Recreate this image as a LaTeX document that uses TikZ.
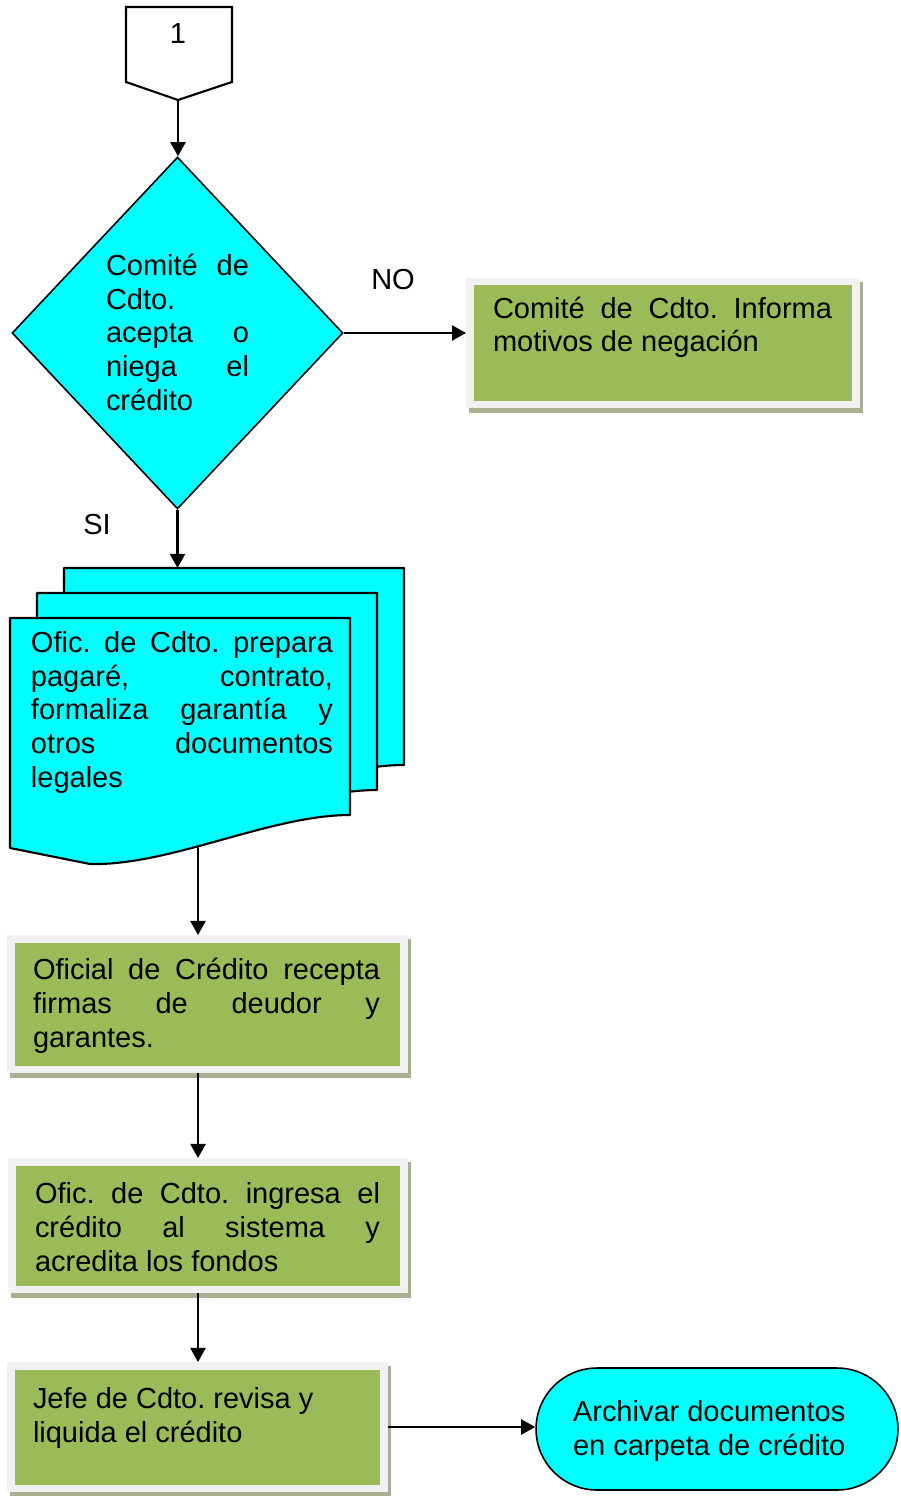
\documentclass[tikz,border=0pt]{standalone}
\usepackage{fontspec}
\setmainfont{Liberation Sans}
\usetikzlibrary{arrows.meta,shapes.geometric,backgrounds}
% drawing unit: one grid step
\newlength\pxu
\setlength\pxu{0.02cm}
\definecolor{flowcyan}{HTML}{00FFFF}
\definecolor{procgreen}{HTML}{9BBB59}
\definecolor{procframe}{HTML}{F1F1F1}
\definecolor{procshadow}{HTML}{A9B08F}
% a justified line of given width
\newcommand\jline[2]{\makebox[#1\pxu][s]{#2}}
\frenchspacing

\tikzset{
  arr/.style={line width=1.35pt, -{Triangle[length=8pt,width=8.5pt]}},
  % text blocks are placed by the baseline of their last line
  txt/.style={inner sep=0pt, outer sep=0pt, anchor=base west, align=left,
              font=\fontsize{16.5}{19.1}\selectfont},
  procbox/.style={fill=procgreen, draw=procframe, line width=4.25pt, inner sep=0pt},
  docpage/.style={draw=black, fill=flowcyan, line width=1.2pt, line join=round},
  boxshadow/.style={fill=procshadow},
}

\begin{document}
\begin{tikzpicture}[x=0.02cm, y=-0.02cm]
\useasboundingbox (0,0) rectangle (900,1496);

% off-page connector
\draw[line width=1.2pt, fill=white, line join=miter]
  (126,7) -- (232,7) -- (232,82) -- (178,100) -- (126,82) -- cycle;
\coordinate (offtip) at (178,100);
\node[txt, anchor=base] (conn) at (178,44) {1};

% decision
\node[diamond, draw, fill=flowcyan, line width=0.9pt,
      minimum width=6.62cm, minimum height=7.04cm, inner sep=0pt] (dia) at (177.5,333) {};
\node[txt] (diatxt) at (106,410)
  {\jline{143}{Comité de}\\Cdto.\\\jline{143}{acepta o}\\\jline{143}{niega el}\\crédito};
\node[txt, anchor=base] (nolbl) at (393,290) {NO};
\node[txt, anchor=base] (silbl) at (97,534) {SI};

% rejection notice
\node[procbox, minimum width=7.73cm, minimum height=2.45cm] (b1) at (663,343) {};
\node[txt] (t1) at (493,352) {\jline{339}{Comité de Cdto. Informa}\\motivos de negación};

% stack of documents
\foreach \dx/\dy in {54/-50, 27/-25, 0/0}
  \draw[docpage, shift={(\dx,\dy)}]
    (10,618) -- (350,618) -- (350,815)
    .. controls (270,815) and (170,866) .. (90,864) -- (10,848) -- cycle;
\coordinate (doctop) at (178.5,568);
\coordinate (docout) at (198,846);
\node[txt] (doctxt) at (31,787)
  {\jline{302}{Ofic. de Cdto. prepara}\\\jline{302}{pagaré, contrato,}\\
   \jline{302}{formaliza garantía y}\\\jline{302}{otros documentos}\\legales};

% process steps
\node[procbox, minimum width=7.87cm, minimum height=2.61cm] (b2) at (207.5,1004) {};
\node[txt] (t2) at (33,1047)
  {\jline{347}{Oficial de Crédito recepta}\\\jline{347}{firmas de deudor y}\\garantes.};

\node[procbox, minimum width=7.85cm, minimum height=2.55cm] (b3) at (208,1225.5) {};
\node[txt] (t3) at (35,1271)
  {\jline{345}{Ofic. de Cdto. ingresa el}\\\jline{345}{crédito al sistema y}\\acredita los fondos};

\node[procbox, minimum width=7.47cm, minimum height=2.45cm] (b4) at (197.5,1427) {};
\node[txt] (t4) at (33,1442) {Jefe de Cdto. revisa y\\liquida el crédito};

% terminator
\node[draw, fill=flowcyan, line width=0.9pt, rounded corners=1.22cm,
      minimum width=7.24cm, minimum height=2.44cm, inner sep=0pt] (term) at (717,1429) {};
\node[txt] (tt) at (573,1455) {Archivar documentos\\en carpeta de crédito};

% shadows behind the process boxes
\begin{scope}[on background layer]
  \foreach \b in {b1,b2,b3,b4}
    \fill[boxshadow] ([shift={(3,4)}]\b.north west) rectangle ([shift={(3,5)}]\b.south east);
\end{scope}

% connectors
\coordinate (spine) at (198,0);
\draw[arr] (offtip) -- (offtip |- dia.north);
\draw[arr] (dia.east) -- (dia.east -| b1.west);
\draw[arr] (dia.south) -- (dia.south |- doctop);
\draw[arr] (docout) -- (docout |- b2.north);
\draw[arr] (b2.south -| spine) -- (b3.north -| spine);
\draw[arr] (b3.south -| spine) -- (b4.north -| spine);
\draw[arr] (b4.east) -- (b4.east -| term.west);
\end{tikzpicture}
\end{document}
